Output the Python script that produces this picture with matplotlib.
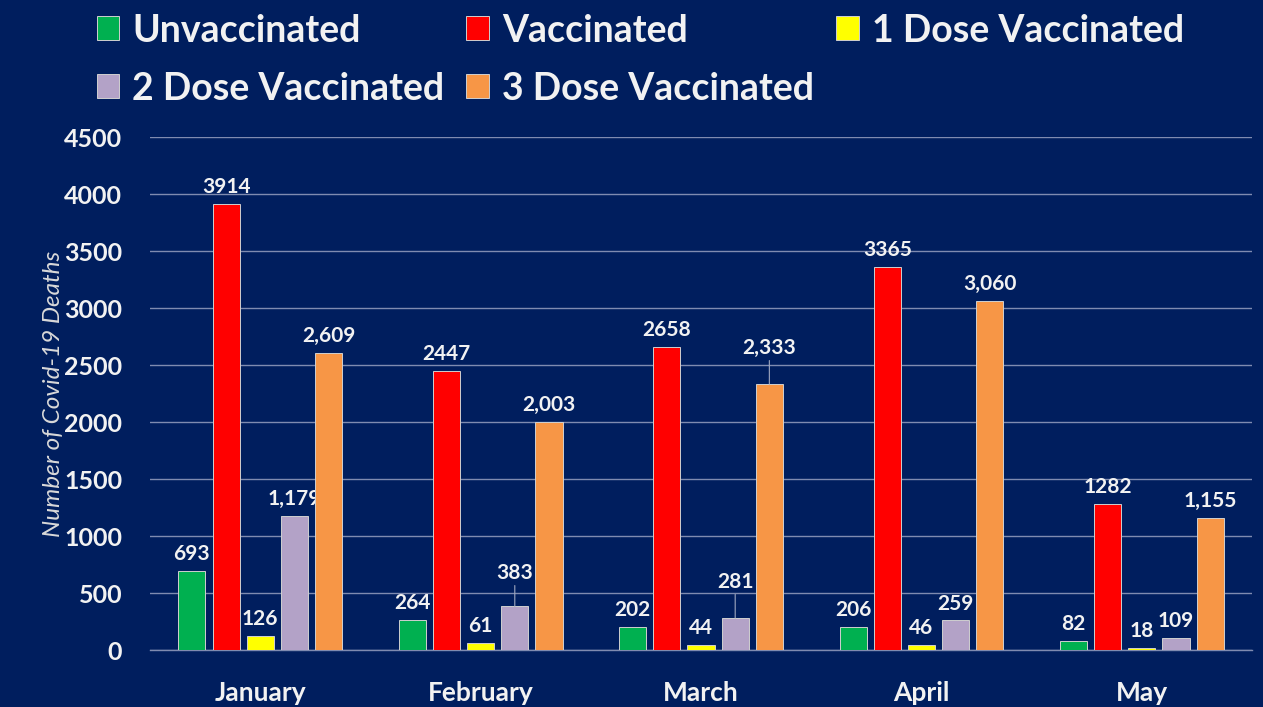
import numpy as np
import matplotlib.pyplot as plt
from matplotlib.patches import Patch

# Data
months = ['January', 'February', 'March', 'April', 'May']
series_names = ['Unvaccinated', 'Vaccinated', '1 Dose Vaccinated',
                '2 Dose Vaccinated', '3 Dose Vaccinated']
unvaccinated = [693, 264, 202, 206, 82]
vaccinated = [3914, 2447, 2658, 3365, 1282]
dose1 = [126, 61, 44, 46, 18]
dose2 = [1179, 383, 281, 259, 109]
dose3 = [2609, 2003, 2333, 3060, 1155]

colors = ['#00B050', '#FF0000', '#FFFF00', '#B3A2C7', '#F79646']
# Vaccinated labels are printed without thousands separator
use_comma = [True, False, True, True, True]

BG = '#001E5E'
GRID = '#7F8BB0'
TXT = '#F2F2F2'

plt.rcParams['font.family'] = ['Lato', 'DejaVu Sans']

fig = plt.figure(figsize=(12.63, 7.07), dpi=100, facecolor=BG)
ax = fig.add_axes([0.1188, 0.0806, 0.8725, 0.7254])
ax.set_facecolor(BG)

x = np.arange(len(months))
pitch = 0.155
width = 0.123
all_series = [unvaccinated, vaccinated, dose1, dose2, dose3]

# labels pushed up with a leader line: (series index, month index) -> extra points
leaders = {(3, 1): 12, (4, 2): 14, (3, 2): 14}

for i, vals in enumerate(all_series):
    pos = x + (i - 2) * pitch
    ax.bar(pos, vals, width=width, color=colors[i], edgecolor='#D0D0D0',
           linewidth=0.7, zorder=3)
    for j, v in enumerate(vals):
        label = f'{v:,}' if use_comma[i] else str(v)
        extra = leaders.get((i, j), 0)
        kw = dict(textcoords='offset points', ha='center', va='bottom',
                  color=TXT, fontsize=15, fontweight='bold')
        if extra:
            ax.annotate(label, xy=(pos[j], v), xytext=(0, 5 + extra),
                        arrowprops=dict(arrowstyle='-', color='#A0A8C0',
                                        lw=0.8, shrinkA=0, shrinkB=0), **kw)
        else:
            ax.annotate(label, xy=(pos[j], v), xytext=(0, 5), **kw)

ax.set_xlim(-0.5, 4.5)
ax.set_ylim(0, 4500)
ax.set_yticks(np.arange(0, 4501, 500))
ax.yaxis.grid(True, color=GRID, linewidth=1.0, zorder=0)
ax.set_axisbelow(True)
for s in ['left', 'right', 'top']:
    ax.spines[s].set_visible(False)
ax.spines['bottom'].set_color(GRID)
ax.spines['bottom'].set_linewidth(1.0)
ax.tick_params(axis='both', length=0, colors=TXT)
ax.tick_params(axis='y', pad=20, labelsize=18)
ax.tick_params(axis='x', pad=22, labelsize=19)
for t in ax.get_yticklabels() + ax.get_xticklabels():
    t.set_fontweight('bold')
ax.set_xticks(x)
ax.set_xticklabels(months)
ax.set_ylabel('Number of Covid-19 Deaths', color='#D9D9D9', fontsize=17.5,
              fontstyle='italic', labelpad=0)

# legend laid out row by row (matplotlib fills columns first)
handles = [Patch(facecolor=c, edgecolor='#D0D0D0', linewidth=0.7) for c in colors]
order = [0, 3, 1, 4, 2]
leg = fig.legend([handles[k] for k in order], [series_names[k] for k in order],
                 ncol=3, loc='upper left', bbox_to_anchor=(0.0557, 1.018),
                 frameon=False, fontsize=27, handlelength=0.6,
                 handleheight=0.6, handletextpad=0.35, columnspacing=0.59,
                 labelspacing=0.64, borderpad=0.2)
for t in leg.get_texts():
    t.set_color(TXT)
    t.set_fontweight('bold')

plt.savefig('out.png', dpi=100, facecolor=BG)
